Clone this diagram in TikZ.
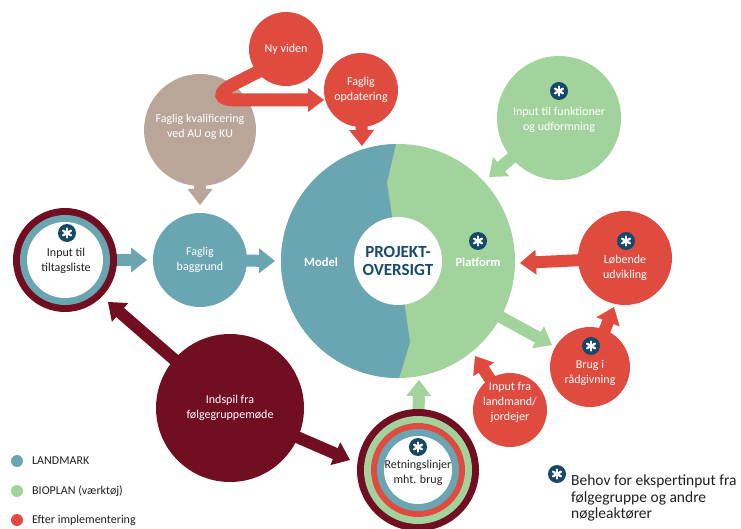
\documentclass[tikz,border=0pt]{standalone}
\usepackage{fontspec}
\setmainfont{Carlito}
\usetikzlibrary{calc}
\definecolor{cteal}{RGB}{106,165,178}
\definecolor{cgreen}{RGB}{163,211,156}
\definecolor{cred}{RGB}{224,75,64}
\definecolor{ctaupe}{RGB}{185,166,153}
\definecolor{cmaroon}{RGB}{114,14,34}
\definecolor{cnavy}{RGB}{22,72,107}
\definecolor{cproj}{RGB}{24,74,112}
\definecolor{ctext}{RGB}{35,31,32}
\pgfdeclarelayer{bottom}
\pgfdeclarelayer{arrowlayer}
\pgfsetlayers{bottom,arrowlayer,main}
\newcommand\myarr[3]{%
  \begin{pgfonlayer}{arrowlayer}
  \coordinate (tmpB) at ($(#3)!16pt!(#2)$);
  \draw[#1, line width=12pt] (#2) -- ($(#3)!15pt!(#2)$);
  \fill[#1] (#3) -- ($(tmpB)!12.5pt!90:(#3)$) -- ($(tmpB)!12.5pt!-90:(#3)$) -- cycle;
  \end{pgfonlayer}}
\begin{document}
\begin{tikzpicture}[x=1pt,y=-1pt,
  bub/.style={circle, inner sep=0pt, align=center, text=white,
    font=\fontsize{12}{15}\selectfont},
  txt/.style={align=center, inner sep=0pt, font=\fontsize{12}{15}\selectfont},
  badge/.pic={
    \fill[cnavy] (0,0) circle (9);
    \foreach \a in {30,90,150} \draw[white, line width=2.3pt, line cap=round] (\a:4.6) -- (\a+180:4.6);
  },
  leg/.style={anchor=west, inner sep=0pt, text=ctext, font=\fontsize{12}{13}\selectfont},
  legdot/.style={circle, inner sep=0pt, minimum size=12pt}
]
\useasboundingbox (0,0) rectangle (741,529);
\begin{pgfonlayer}{bottom}
\fill[white] (0,0) rectangle (741,529);
\node[circle, inner sep=0pt, fill=ctaupe, minimum size=112pt] (fkv) at (200,130) {};
\end{pgfonlayer}
\node[txt, text=white] (fkvt) at (200,127) {Faglig kvalificering\\ved AU og KU};

% central circle
\node[circle, inner sep=0pt, minimum size=234pt] (big) at (398,261) {};
\fill[cgreen] (big.center) circle (117);
\begin{scope}
  \clip (big.center) circle (117);
  \fill[cteal] (397,140) -- (387,182) -- (410,342) -- (398,382) -- (270,382) -- (270,140) -- cycle;
\end{scope}
\node[circle, fill=white, inner sep=0pt, minimum size=88pt, text=cproj, align=center,
  font=\fontsize{17}{18}\bfseries\selectfont] (proj) at (398,261) {PROJEKT-\\OVERSIGT};
\node[text=white, font=\fontsize{12.5}{12}\bfseries\selectfont] (model) at (321,262) {Model};
\node[text=white, font=\fontsize{12.5}{12}\bfseries\selectfont] (platform) at (478,262) {Platform};
\pic at (478,241) {badge};

% red top nodes
\node[bub, fill=cred, minimum size=74pt] (nyv) at (286,49) {Ny viden};
\node[bub, fill=cred, minimum size=74pt] (fop) at (361,90) {Faglig\\opdatering};

% teal baggrund
\node[bub, fill=cteal, minimum size=94pt] (fbg) at (200,260) {Faglig\\baggrund};

% tiltagsliste
\node[circle, inner sep=0pt, fill=cmaroon, minimum size=104pt] (itl) at (65,260) {};
\fill[cteal] (itl.center) circle (45);
\fill[white] (itl.center) circle (38);
\pic at (67,233) {badge};
\node[txt, text=ctext] (itlt) at (66,261) {Input til\\tiltagsliste};

% green input til funktioner
\node[circle, inner sep=0pt, fill=cgreen, minimum size=124pt] (ifu) at (559,118) {};
\pic at (559,91) {badge};
\node[txt, text=white] (ifut) at (559,120) {Input til funktioner\\og udformning};

% maroon indspil
\node[bub, fill=cmaroon, minimum size=148pt] (ifm) at (230,408) {Indspil fra\\følgegruppemøde};

% retningslinjer
\node[circle, inner sep=0pt, fill=cmaroon, minimum size=122pt] (ret) at (418,470) {};
\fill[cgreen] (ret.center) circle (54);
\fill[cred] (ret.center) circle (47);
\fill[cteal] (ret.center) circle (41);
\fill[white] (ret.center) circle (34);
\pic at (418,447) {badge};
\node[txt, text=ctext] (rett) at (418,473) {Retningslinjer\\mht. brug};

% red right nodes
\node[circle, inner sep=0pt, fill=cred, minimum size=94pt] (lob) at (625,258) {};
\pic at (626,241) {badge};
\node[txt, text=white] (lobt) at (625,268) {Løbende\\udvikling};

\node[circle, inner sep=0pt, fill=cred, minimum size=80pt] (brug) at (590,367) {};
\pic at (591,346) {badge};
\node[txt, text=white] (brugt) at (590,373) {Brug i\\rådgivning};

\node[circle, inner sep=0pt, fill=cred, minimum size=74pt] (ifl) at (510,410) {};
\node[txt, text=white] (iflt) at (510,402) {Input fra\\landmand/\\jordejer};

% arrow tips
\coordinate (t1) at (362,146);
\coordinate (t2) at (200,205);
\coordinate (t3) at (147,260);
\coordinate (t4) at (275,261);
\coordinate (t5) at (489,177);
\coordinate (t6) at (520,263);
\coordinate (t7) at (552,345);
\coordinate (t8) at (614,307);
\coordinate (t9) at (475,356);
\coordinate (t10) at (108,302);
\coordinate (t11) at (350,460);
\coordinate (t12) at (419,380);
\coordinate (t13) at (324,100);
\coordinate (c13a) at (283,59);
\coordinate (c13b) at (234,84);
\coordinate (c13c) at (236,100);

\myarr{cred}{fop.center}{t1}
\myarr{ctaupe}{fkv.center}{t2}
\myarr{cteal}{itl.center}{t3}
\myarr{cteal}{fbg.center}{t4}
\myarr{cgreen}{ifu.center}{t5}
\myarr{cred}{lob.center}{t6}
\myarr{cgreen}{big.center}{t7}
\myarr{cred}{brug.center}{t8}
\myarr{cred}{ifl.center}{t9}
\myarr{cmaroon}{ifm.center}{t10}
\myarr{cmaroon}{ifm.center}{t11}
\myarr{cgreen}{ret.center}{t12}
\begin{pgfonlayer}{arrowlayer}
\draw[cred, line width=13pt] (c13a) -- (c13b) .. controls (216,93) and (219,100) .. (c13c) -- (310,100);
\fill[cred] (t13) -- (308,88) -- (308,112) -- cycle;
\end{pgfonlayer}

% legend
\node[legdot, fill=cteal] (l1) at (17,461) {};
\node[leg] (l1t) at (32,461) {LANDMARK};
\node[legdot, fill=cgreen] (l2) at (17,491) {};
\node[leg] (l2t) at (32,491) {BIOPLAN (værktøj)};
\node[legdot, fill=cred] (l3) at (17,520) {};
\node[leg] (l3t) at (32,520) {Efter implementering};

\pic at (557,474) {badge};
\node[anchor=north west, inner sep=0pt, align=left, text=ctext,
  font=\fontsize{15.5}{16.5}\selectfont] (behov) at (571,475) {Behov for ekspertinput fra\\følgegruppe og andre\\nøgleaktører};
\end{tikzpicture}
\end{document}
